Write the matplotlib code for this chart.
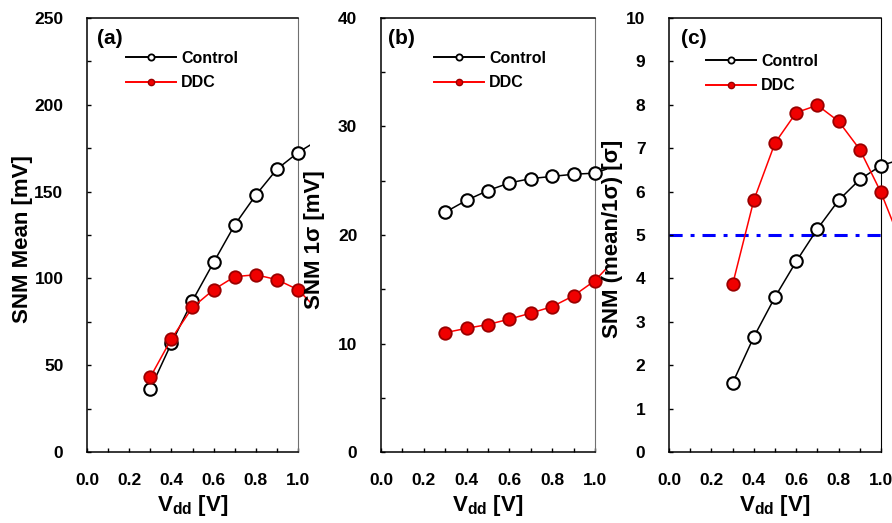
import matplotlib
matplotlib.use('Agg')
import matplotlib.pyplot as plt
from matplotlib.lines import Line2D
from matplotlib.ticker import MultipleLocator, FormatStrFormatter, NullLocator
from matplotlib.transforms import Bbox, TransformedBbox

plt.rcParams['font.family'] = ['Liberation Sans', 'DejaVu Sans']
plt.rcParams['font.weight'] = 'bold'
plt.rcParams['mathtext.fontset'] = 'custom'
plt.rcParams['mathtext.rm'] = 'Liberation Sans:bold'
plt.rcParams['mathtext.bf'] = 'Liberation Sans:bold'
plt.rcParams['mathtext.it'] = 'Liberation Sans:bold'

# ---------------- data ----------------
vdd = [0.3, 0.4, 0.5, 0.6, 0.7, 0.8, 0.9, 1.0, 1.1]
mean_control = [36.4, 62.6, 87.2, 109.2, 130.8, 148.0, 162.9, 172.5, 180.0]
mean_ddc = [43.1, 65.2, 83.3, 93.5, 101.0, 102.1, 99.3, 93.5, 81.0]
sigma_control = [22.1, 23.2, 24.1, 24.8, 25.2, 25.4, 25.6, 25.7, 26.4]
sigma_ddc = [11.0, 11.4, 11.75, 12.25, 12.8, 13.4, 14.4, 15.8, 17.9]
ratio_control = [1.59, 2.65, 3.57, 4.39, 5.14, 5.80, 6.28, 6.60, 6.75]
ratio_ddc = [3.86, 5.80, 7.12, 7.82, 7.99, 7.62, 6.97, 5.98, 4.75]
threshold_sigma = 5

series_labels = ['Control', 'DDC']
panel_letters = ['(a)', '(b)', '(c)']
y_labels = ['SNM Mean [mV]', 'SNM 1σ [mV]', 'SNM (mean/1σ) [σ]']
x_label = r'$\mathbf{V_{dd}}$ [V]'

# ---------------- figure ----------------
W, H = 892, 523
fig = plt.figure(figsize=(W / 100, H / 100), dpi=100)

def px_axes(x0, x1, ytop, ybot):
    return fig.add_axes([x0 / W, (H - ybot) / H, (x1 - x0) / W, (ybot - ytop) / H])

axes = [px_axes(87, 298, 18, 452), px_axes(381, 595, 18, 452), px_axes(669, 881, 18, 452)]

ylims = [(0, 250), (0, 40), (0, 10)]
ymajor = [50, 10, 1]
yminor = [25, 5, None]
ylab_x = [-0.255, -0.262, -0.217]
leg_anchor = [(0.185, 0.925), (0.248, 0.925), (0.175, 0.918)]
letter_x = [0.047, 0.033, 0.057]
right_spine_color = ['#707070', '#707070', 'black']
data = [(mean_control, mean_ddc), (sigma_control, sigma_ddc), (ratio_control, ratio_ddc)]

red_fill = '#F00000'
red_edge = '#9A0000'

for i, ax in enumerate(axes):
    ctrl, ddc = data[i]
    clip = TransformedBbox(Bbox([[0, 0], [1 + 12 / 211, 1]]), ax.transAxes)
    if i == 2:
        ax.axhline(threshold_sigma, color='#0000FF', lw=2.2,
                   linestyle=(0, (4.3, 2.6, 1.3, 2.6)), zorder=1)
    l1, = ax.plot(vdd, ctrl, color='black', lw=1.1, marker='o', ms=9,
                  mfc='white', mec='black', mew=1.5, zorder=3)
    l2, = ax.plot(vdd, ddc, color='red', lw=1.1, marker='o', ms=9,
                  mfc=red_fill, mec=red_edge, mew=1.3, zorder=4)
    for ln in (l1, l2):
        ln.set_clip_box(clip)

    ax.set_xlim(0, 1.0)
    ax.set_ylim(*ylims[i])
    ax.xaxis.set_major_locator(MultipleLocator(0.2))
    ax.xaxis.set_minor_locator(MultipleLocator(0.1))
    ax.xaxis.set_major_formatter(FormatStrFormatter('%.1f'))
    ax.yaxis.set_major_locator(MultipleLocator(ymajor[i]))
    if yminor[i]:
        ax.yaxis.set_minor_locator(MultipleLocator(yminor[i]))
    else:
        ax.yaxis.set_minor_locator(NullLocator())
    ax.tick_params(axis='both', which='both', direction='in', length=3, width=1,
                   top=False, right=False)
    ax.tick_params(axis='y', which='major', pad=17, labelsize=12.5)
    ax.tick_params(axis='x', which='major', pad=15, labelsize=12.5)

    for s in ('left', 'bottom', 'top'):
        ax.spines[s].set_linewidth(1.1)
        ax.spines[s].set_color('black')
    ax.spines['right'].set_linewidth(0.8)
    ax.spines['right'].set_color(right_spine_color[i])

    ax.set_ylabel(y_labels[i], fontsize=16, fontweight='bold')
    ax.yaxis.set_label_coords(ylab_x[i], 0.49)
    ax.set_xlabel(x_label, fontsize=16, fontweight='bold')
    ax.xaxis.set_label_coords(0.5, -0.094)

    ax.text(letter_x[i], 0.952, panel_letters[i], transform=ax.transAxes,
            fontsize=15, fontweight='bold', ha='left', va='center')

    handles = [
        Line2D([], [], color='black', lw=1.4, marker='o', ms=4.5,
               mfc='white', mec='black', mew=1.3),
        Line2D([], [], color='red', lw=1.4, marker='o', ms=4.5,
               mfc=red_fill, mec=red_edge, mew=1.0),
    ]
    ax.legend(handles, series_labels, loc='upper left', bbox_to_anchor=leg_anchor[i],
              frameon=False, handlelength=3.1, handletextpad=0.35, labelspacing=0.62,
              borderpad=0, borderaxespad=0, numpoints=1,
              prop={'size': 11.5, 'weight': 'bold'})

fig.savefig('out.png', dpi=100)
